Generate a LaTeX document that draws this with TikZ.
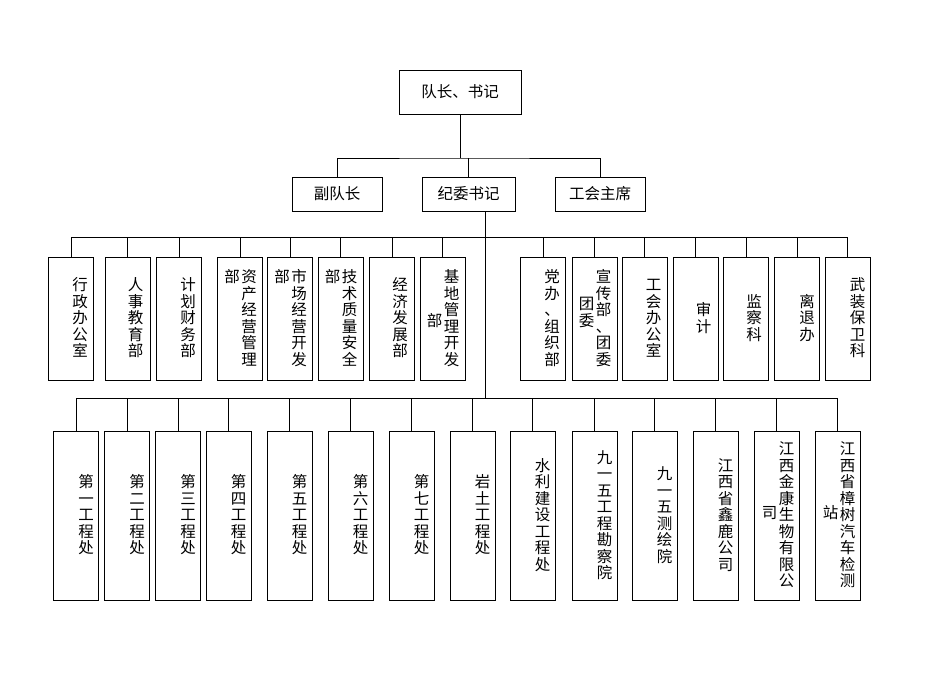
\documentclass[tikz,border=0pt]{standalone}
\usepackage{fontspec}
\newfontfamily\cjk{Noto Sans CJK SC}
\usetikzlibrary{positioning}

\ExplSyntaxOn
\NewDocumentCommand\vcol{m}{\vbox{\offinterlineskip
  \tl_map_inline:nn{#1}{\hbox to 1em{\hss##1\hss\vrule height .88em depth .12em width 0pt}\kern1pt}}}
\ExplSyntaxOff

\tikzset{
  box/.style={draw, line width=0.8pt, inner sep=0pt},
  headbox/.style={box, minimum height=34, font=\cjk\fontsize{15.5}{18}\selectfont},
  deptbox/.style={box, minimum width=45, minimum height=123},
  unitbox/.style={box, minimum width=45, minimum height=169},
  txt/.style={inner sep=0pt, font=\cjk\fontsize{15.5}{18}\selectfont},
  link/.style={line width=0.6pt}
}

\begin{document}
\begin{tikzpicture}[x=1pt,y=-1pt]
\useasboundingbox (0,0) rectangle (950,672);

% top
\node[headbox, minimum width=122, minimum height=44] (lead) at (460,92) {队长、书记};
\node[headbox, minimum width=90] (fu) at (337,194) {副队长};
\node[headbox, minimum width=93] (ji) at (468.5,194) {纪委书记};
\node[headbox, minimum width=90] (gh) at (600,194) {工会主席};
\coordinate (top bus) at (460,158);
\draw[link] (lead.south) -- (top bus);
\draw[link] (fu.north) |- (top bus) -| (gh.north);
\draw[link] (ji.north) -- (ji.north |- top bus);

% trunk and buses
\coordinate (mid bus) at (485,237);
\coordinate (low bus) at (485,398);
\draw[link] (485,211) -- (low bus);

% departments
\foreach \n/\x in {m1/71,m2/127.5,m3/179,m4/240,m5/290,m6/340.5,m7/392,m8/442.5,
                   m9/543,m10/594.5,m11/644.5,m12/695.5,m13/746,m14/797,m15/847.5}{
  \node[deptbox] (\n) at (\x,318.5) {};
  \draw[link] (\n.north) -- (\n.north |- mid bus);
}
\draw[link] (m1.north |- mid bus) -- (m15.north |- mid bus);

\node[txt] (t1) at ([xshift=9]m1.center) {\vcol{行政办公室}};
\node[txt] (t2) at ([xshift=8]m2.center) {\vcol{人事教育部}};
\node[txt] (t3) at ([xshift=9]m3.center) {\vcol{计划财务部}};
\node[txt] (t4) at ([xshift=9]m4.center) {\vcol{资产经营管理}};
\node[txt, anchor=north east] (t4b) at ([xshift=-1]t4.north west) {\vcol{部}};
\node[txt] (t5) at ([xshift=9]m5.center) {\vcol{市场经营开发}};
\node[txt, anchor=north east] (t5b) at ([xshift=-1]t5.north west) {\vcol{部}};
\node[txt] (t6) at ([xshift=9]m6.center) {\vcol{技术质量安全}};
\node[txt, anchor=north east] (t6b) at ([xshift=-1]t6.north west) {\vcol{部}};
\node[txt] (t7) at ([xshift=8]m7.center) {\vcol{经济发展部}};
\node[txt] (t8) at ([xshift=9]m8.center) {\vcol{基地管理开发}};
\node[txt, anchor=north east] (t8b) at ([xshift=-1,yshift=-44]t8.north west) {\vcol{部}};
\node[txt] (t9) at ([xshift=9]m9.center) {\vcol{党办、组织部}};
\node[txt] (t10) at ([xshift=9]m10.center) {\vcol{宣传部、团委}};
\node[txt, anchor=north east] (t10b) at ([xshift=-1,yshift=-27]t10.north west) {\vcol{团委}};
\node[txt] (t11) at ([xshift=9]m11.center) {\vcol{工会办公室}};
\node[txt] (t12) at ([xshift=8]m12.center) {\vcol{审计}};
\node[txt] (t13) at ([xshift=8]m13.center) {\vcol{监察科}};
\node[txt] (t14) at ([xshift=10]m14.center) {\vcol{离退办}};
\node[txt] (t15) at ([xshift=10]m15.center) {\vcol{武装保卫科}};

% units
\foreach \n/\x in {u1/76,u2/127,u3/178,u4/228.5,u5/289.5,u6/350.5,u7/411.5,u8/472.5,
                   u9/532.5,u10/594.5,u11/654.5,u12/715.5,u13/776.5,u14/837.5}{
  \node[unitbox] (\n) at (\x,515.5) {};
  \draw[link] (\n.north) -- (\n.north |- low bus);
}
\draw[link] (u1.north |- low bus) -- (u14.north |- low bus);

\node[txt] (s1) at ([xshift=10]u1.center) {\vcol{第一工程处}};
\node[txt] (s2) at ([xshift=10]u2.center) {\vcol{第二工程处}};
\node[txt] (s3) at ([xshift=10]u3.center) {\vcol{第三工程处}};
\node[txt] (s4) at ([xshift=10]u4.center) {\vcol{第四工程处}};
\node[txt] (s5) at ([xshift=10]u5.center) {\vcol{第五工程处}};
\node[txt] (s6) at ([xshift=10]u6.center) {\vcol{第六工程处}};
\node[txt] (s7) at ([xshift=10]u7.center) {\vcol{第七工程处}};
\node[txt] (s8) at ([xshift=10]u8.center) {\vcol{岩土工程处}};
\node[txt] (s9) at ([xshift=10]u9.center) {\vcol{水利建设工程处}};
\node[txt] (s10) at ([xshift=10]u10.center) {\vcol{九一五工程勘察院}};
\node[txt] (s11) at ([xshift=10]u11.center) {\vcol{九一五测绘院}};
\node[txt] (s12) at ([xshift=10]u12.center) {\vcol{江西省鑫鹿公司}};
\node[txt] (s13) at ([xshift=10]u13.center) {\vcol{江西金康生物有限公}};
\node[txt, anchor=north east] (s13b) at ([xshift=-1,yshift=-64]s13.north west) {\vcol{司}};
\node[txt] (s14) at ([xshift=10]u14.center) {\vcol{江西省樟树汽车检测}};
\node[txt, anchor=north east] (s14b) at ([xshift=-1,yshift=-64]s14.north west) {\vcol{站}};
\end{tikzpicture}
\end{document}
